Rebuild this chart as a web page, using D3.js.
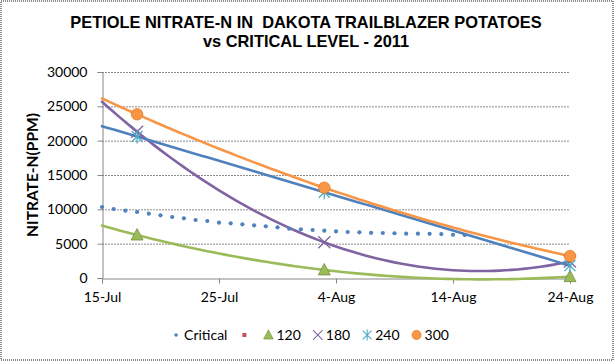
<!DOCTYPE html>
<html>
<head>
<meta charset="utf-8">
<script src="https://cdn.jsdelivr.net/npm/d3@7"></script>
<style>
  body { margin: 0; background: #fff; }
  svg { display: block; }
</style>
</head>
<body>
<svg width="614" height="361"></svg>
<script>
// sampling dates and the four rate series (ppm)
const sampleDates = ['2011-07-18', '2011-08-03', '2011-08-24'];
const rate120 = [6260, 1170, 200];
const rate180 = [21300, 5200, 2400];
const rate240 = [20600, 12500, 1800];
const rate300 = [23840, 13150, 3200];

// critical level, one value a day from 15-Jul
const criticalStart = '2011-07-15';
const critical = [10340, 10050, 9800, 9610, 9370, 9130, 8880, 8690, 8450, 8300,
  8060, 7960, 7820, 7670, 7530, 7380, 7190, 7100, 6990, 6890,
  6790, 6700, 6650, 6580, 6550, 6520, 6460, 6460, 6440, 6400, 6300, 6260];

const xTicks = ['2011-07-15', '2011-07-25', '2011-08-04', '2011-08-14', '2011-08-24'];
const yTicks = [0, 5000, 10000, 15000, 20000, 25000, 30000];

const series = [
  { name: '120', values: rate120, color: '#9bbb59', marker: 'triangle' },
  { name: '180', values: rate180, color: '#8064a2', marker: 'x' },
  { name: '240', values: rate240, color: '#4bacc6', line: '#4f81bd', marker: 'star' },
  { name: '300', values: rate300, color: '#f79646', marker: 'circle' }
];

const parse = d3.timeParse('%Y-%m-%d');
const svg = d3.select('svg');
const width = +svg.attr('width');
const height = +svg.attr('height');

const x = d3.scaleTime()
  .domain([parse(xTicks[0]), parse(xTicks[xTicks.length - 1])])
  .range([102, 570]);
const y = d3.scaleLinear()
  .domain([0, 30000])
  .range([278, 72]);

const font = 'Lato, "DejaVu Sans", sans-serif';

// chart border
svg.append('rect')
  .attr('x', 1).attr('y', 1)
  .attr('width', width - 2).attr('height', height - 2)
  .attr('fill', '#fff')
  .attr('stroke', '#8a8a8a')
  .attr('stroke-width', 2)
  .attr('stroke-dasharray', '1,1');

// title
const title = svg.append('text')
  .attr('x', 306)
  .attr('text-anchor', 'middle')
  .style('font-family', '"Liberation Sans", Arial, sans-serif')
  .style('font-weight', 'bold')
  .style('font-size', '16.4px')
  .attr('fill', '#000');
title.append('tspan').attr('x', 306).attr('y', 28)
  .text('PETIOLE NITRATE-N IN\u00a0\u00a0DAKOTA TRAILBLAZER POTATOES');
title.append('tspan').attr('x', 306).attr('y', 47).text('vs CRITICAL LEVEL - 2011');

// gridlines
svg.append('g')
  .selectAll('line')
  .data(yTicks.filter(d => d > 0))
  .join('line')
  .attr('x1', x.range()[0]).attr('x2', x.range()[1])
  .attr('y1', d => y(d) + 0.5).attr('y2', d => y(d) + 0.5)
  .attr('stroke', '#8c8c8c')
  .attr('stroke-dasharray', '2,1');

// y axis
const yAxis = svg.append('g')
  .attr('transform', `translate(${x.range()[0] + 0.5},0)`)
  .call(d3.axisLeft(y).tickValues(yTicks).tickSize(5).tickPadding(10).tickFormat(d3.format('d')));
yAxis.select('.domain').attr('stroke', '#868686');
yAxis.selectAll('.tick line').attr('stroke', '#868686');
yAxis.selectAll('text')
  .style('font-family', font).style('font-size', '14px').attr('fill', '#000');

// x axis
const xAxis = svg.append('g')
  .attr('transform', `translate(0,${y(0) + 0.5})`)
  .call(d3.axisBottom(x).tickValues(xTicks.map(parse)).tickSize(5).tickPadding(9)
    .tickFormat(d3.timeFormat('%-d-%b')));
xAxis.select('.domain').attr('stroke', '#868686');
xAxis.selectAll('.tick line').attr('stroke', '#868686');
xAxis.selectAll('text')
  .style('font-family', font).style('font-size', '14px').attr('fill', '#000');

// y axis title
svg.append('text')
  .attr('transform', `translate(38,175) rotate(-90)`)
  .attr('text-anchor', 'middle')
  .style('font-family', font)
  .style('font-weight', 'bold')
  .style('font-size', '15.5px')
  .attr('fill', '#000')
  .text('NITRATE-N(PPM)');

// 2nd-order polynomial trendline, fitted on day number
const day0 = parse(xTicks[0]);
const dayOf = d => d3.timeDay.count(day0, d);
function polyFit2(xs, ys) {
  // normal equations for a + b x + c x^2
  const s = k => d3.sum(xs, v => Math.pow(v, k));
  const t = k => d3.sum(xs, (v, i) => Math.pow(v, k) * ys[i]);
  const A = [[s(0), s(1), s(2)], [s(1), s(2), s(3)], [s(2), s(3), s(4)]];
  const B = [t(0), t(1), t(2)];
  // gaussian elimination
  for (let i = 0; i < 3; i++) {
    for (let j = i + 1; j < 3; j++) {
      const f = A[j][i] / A[i][i];
      for (let k = i; k < 3; k++) A[j][k] -= f * A[i][k];
      B[j] -= f * B[i];
    }
  }
  const c = [0, 0, 0];
  for (let i = 2; i >= 0; i--) {
    let v = B[i];
    for (let k = i + 1; k < 3; k++) v -= A[i][k] * c[k];
    c[i] = v / A[i][i];
  }
  return v => c[0] + c[1] * v + c[2] * v * v;
}

const dates = sampleDates.map(parse);
const lastDay = dayOf(x.domain()[1]);
const trend = d3.line()
  .x(d => x(day0.getTime() + d[0] * 864e5))
  .y(d => y(d[1]));

const trendG = svg.append('g');
series.forEach(s => {
  const f = polyFit2(dates.map(dayOf), s.values);
  const pts = d3.range(0, lastDay + 0.001, 0.5).map(v => [v, f(v)]);
  trendG.append('path')
    .datum(pts)
    .attr('d', trend)
    .attr('fill', 'none')
    .attr('stroke', s.line || s.color)
    .attr('stroke-width', 2.6)
    .attr('stroke-linecap', 'round');
});

// critical points
const critStart = parse(criticalStart);
svg.append('g')
  .selectAll('circle')
  .data(critical)
  .join('circle')
  .attr('cx', (d, i) => x(d3.timeDay.offset(critStart, i)))
  .attr('cy', d => y(d))
  .attr('r', 2.1)
  .attr('fill', '#4f81bd');

// markers
function drawMarker(sel, type, color) {
  if (type === 'triangle') {
    sel.append('path').attr('d', 'M0,-6.5L6,5L-6,5Z')
      .attr('fill', color).attr('stroke', '#76923c').attr('stroke-width', 0.8);
  } else if (type === 'x') {
    sel.append('path').attr('d', 'M-6,-6L6,6M-6,6L6,-6')
      .attr('stroke', color).attr('stroke-width', 1.3).attr('fill', 'none');
  } else if (type === 'star') {
    sel.append('path').attr('d', 'M-5.5,-5.5L5.5,5.5M-5.5,5.5L5.5,-5.5M0,-7L0,7')
      .attr('stroke', color).attr('stroke-width', 1.3).attr('fill', 'none');
  } else if (type === 'circle') {
    sel.append('circle').attr('r', 5.8)
      .attr('fill', color).attr('stroke', '#e46c0a').attr('stroke-width', 0.6);
  }
}

series.forEach(s => {
  svg.append('g')
    .selectAll('g')
    .data(s.values)
    .join('g')
    .attr('transform', (d, i) => `translate(${x(dates[i])},${y(d)})`)
    .each(function () { drawMarker(d3.select(this), s.marker, s.color); });
});

// legend
const legendItems = [
  { name: 'Critical', kind: 'dot' },
  { name: '', kind: 'square' },
  ...series.map(s => ({ name: s.name, kind: s.marker, color: s.color }))
];
const legend = svg.append('g')
  .style('font-family', font).style('font-size', '14px');
let cursor = 0;
const legendY = 335;
legendItems.forEach(item => {
  const g = legend.append('g').attr('transform', `translate(${cursor},${legendY})`);
  const m = g.append('g').attr('transform', 'translate(7,0)');
  if (item.kind === 'dot') {
    m.append('circle').attr('r', 1.8).attr('fill', '#4f81bd');
  } else if (item.kind === 'square') {
    m.append('rect').attr('x', -2).attr('y', -2).attr('width', 4).attr('height', 4).attr('fill', '#c0504d');
  } else {
    const mm = m.append('g').attr('transform', 'scale(0.8)');
    drawMarker(mm, item.kind, item.color);
  }
  let w = 14;
  if (item.name) {
    const t = g.append('text').attr('x', 15).attr('dy', '0.35em').attr('fill', '#000').text(item.name);
    w = 15 + t.node().getComputedTextLength();
  }
  cursor += w + 10;
});
const legendWidth = cursor - 10;
legend.attr('transform', `translate(${309 - legendWidth / 2},0)`);
</script>
</body>
</html>
